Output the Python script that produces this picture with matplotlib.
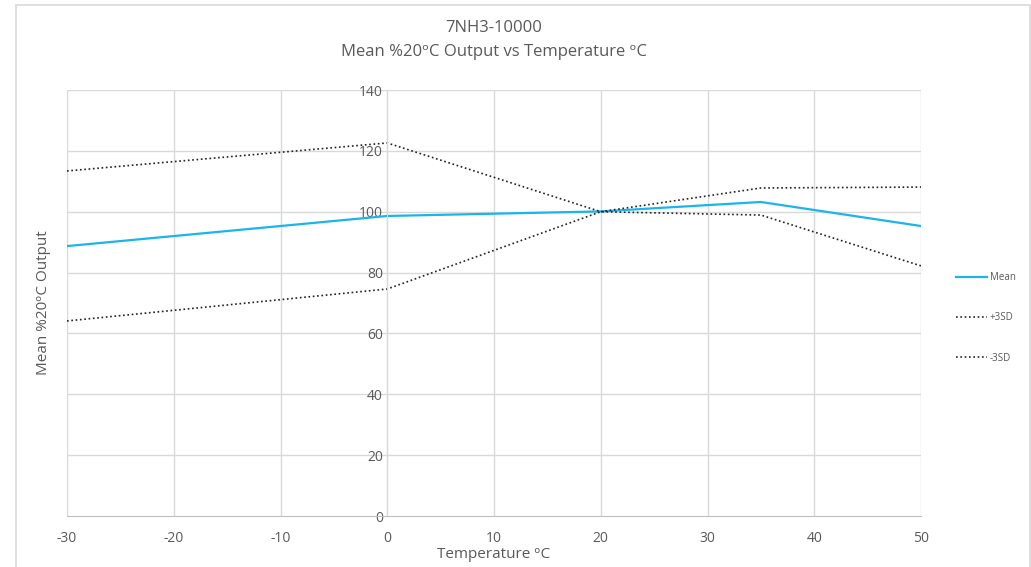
import matplotlib
matplotlib.use("Agg")
import matplotlib.pyplot as plt
from matplotlib.patches import Rectangle

plt.rcParams['font.family'] = ['Open Sans', 'DejaVu Sans']
plt.rcParams['axes.unicode_minus'] = False

# data
temps = [-30, 0, 20, 35, 50]
mean = [88.7, 98.6, 100.1, 103.2, 95.3]
plus3sd = [113.4, 122.6, 100.0, 107.8, 108.1]
minus3sd = [64.1, 74.6, 100.0, 98.9, 82.2]

xticks = [-30, -20, -10, 0, 10, 20, 30, 40, 50]
yticks = [0, 20, 40, 60, 80, 100, 120, 140]

deg = '\u1d52'
txt = '#595959'
grid = '#d9d9d9'

fig = plt.figure(figsize=(10.31, 5.67), dpi=100)
ax = fig.add_axes([67/1031, 1 - 516/567, (921-67)/1031, (516-90)/567])

# outer chart border
fig.patches.append(Rectangle((16/1031, -0.1), (1030-16)/1031, 1.1 - 5/567,
                             transform=fig.transFigure, fill=False,
                             edgecolor='#d9d9d9', linewidth=1.2))

ax.plot(temps, mean, color='#1cb4ec', linewidth=1.6, label='Mean')
ax.plot(temps, plus3sd, color='#222222', linewidth=1.2, linestyle=(0, (1, 1.6)), label='+3SD')
ax.plot(temps, minus3sd, color='#222222', linewidth=1.2, linestyle=(0, (1, 1.6)), label='-3SD')

ax.set_xlim(-30, 50)
ax.set_ylim(0, 140)
ax.set_xticks(xticks)
ax.set_yticks(yticks)
for v in xticks:
    ax.axvline(v, color=grid, linewidth=1, zorder=0)
for v in yticks[1:]:
    ax.axhline(v, color=grid, linewidth=1, zorder=0)

for s in ['top', 'right']:
    ax.spines[s].set_visible(False)
ax.spines['left'].set_position(('data', 0))
ax.spines['left'].set_color(grid)
ax.spines['bottom'].set_color('#bfbfbf')
ax.tick_params(axis='both', length=0, labelsize=10, labelcolor=txt)
ax.tick_params(axis='x', pad=11)
ax.tick_params(axis='y', pad=3)

fig.text(494/1031, 1 - 555/567, 'Temperature ' + deg + 'C',
         ha='center', va='center', fontsize=11, color=txt)
fig.text(44/1031, 1 - 303/567, 'Mean %20' + deg + 'C Output', rotation=90,
         ha='center', va='center', fontsize=11, color=txt)
fig.text(494/1031, 1 - 28/567, '7NH3-10000', ha='center', va='center',
         fontsize=12, color=txt)
fig.text(494/1031, 1 - 52/567, 'Mean %20' + deg + 'C Output vs Temperature ' + deg + 'C',
         ha='center', va='center', fontsize=12, color=txt)

ax.legend(loc='center left', bbox_to_anchor=(947/1031, 1 - 318/567),
          bbox_transform=fig.transFigure, frameon=False, fontsize=7,
          labelcolor=txt, handlelength=3.2, handletextpad=0.3, labelspacing=3.0)

fig.savefig('out.png', dpi=100)
